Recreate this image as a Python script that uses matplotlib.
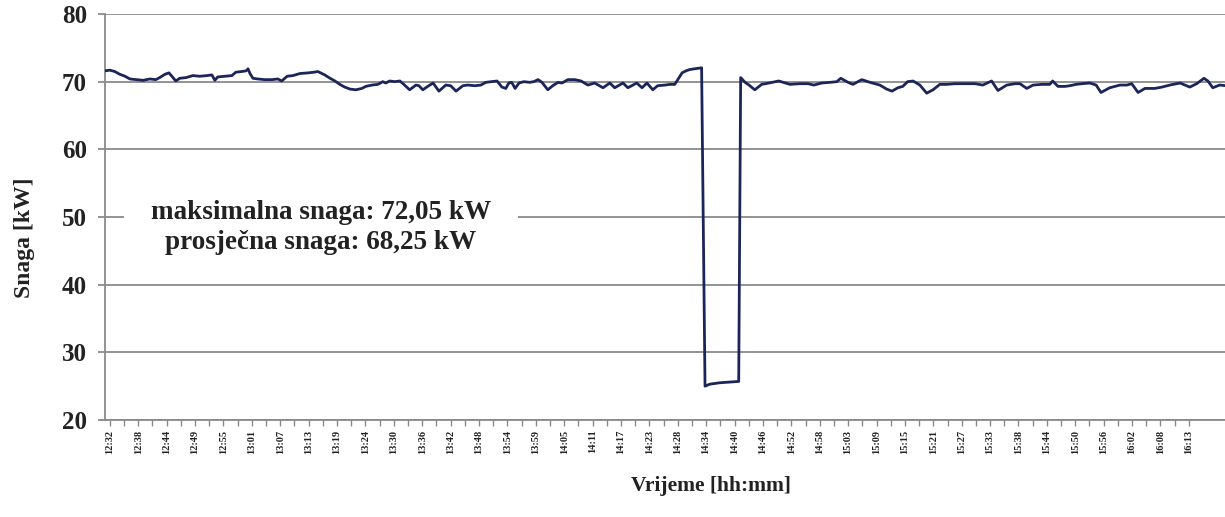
import matplotlib.pyplot as plt
import numpy as np

plt.rcParams['font.family'] = ['Liberation Serif', 'DejaVu Serif']
plt.rcParams['font.weight'] = 'bold'
plt.rcParams['axes.labelweight'] = 'bold'

# Measured power, time in minutes counted from 12:32
minutes = [
    -1.0, 0.0, 1.0, 2.0, 3.1, 4.1, 5.5, 6.8, 8.2, 9.4, 10.2, 11.3, 12.1, 12.7,
    13.5, 14.3, 15.6, 17.0, 18.4, 19.9, 20.9, 21.5, 22.1, 23.6, 25.0, 25.8,
    27.0, 27.9, 28.3, 28.7, 29.3, 30.3, 31.7, 33.2, 34.4, 35.2, 36.3, 37.5,
    38.9, 40.6, 41.8, 42.6, 44.0, 45.1, 46.1, 47.1, 48.1, 49.2, 50.4, 51.6,
    52.4, 53.7, 54.9, 55.9, 56.5, 57.3, 58.4, 59.4, 60.2, 61.4, 62.7, 63.3,
    64.1, 65.1, 66.2, 67.4, 68.8, 69.8, 70.9, 72.3, 73.3, 74.8, 76.0, 77.0,
    78.2, 79.3, 80.3, 81.1, 81.7, 82.3, 83.0, 83.8, 84.8, 86.0, 86.8, 87.7,
    88.5, 89.7, 90.7, 91.8, 92.6, 93.8, 95.2, 96.5, 97.9, 99.3, 101.0, 102.4,
    103.4, 105.1, 106.1, 107.9, 109.0, 110.0, 111.2, 112.2, 113.7, 114.7,
    115.7, 116.5, 117.2, 118.0, 118.8, 119.8, 120.8, 121.2, 121.9, 122.9,
    124.9, 127.0, 128.8, 129.2, 130.1, 130.9, 132.1, 133.5, 135.0, 137.0,
    139.3, 141.3, 143.0, 144.2, 145.8, 147.5, 148.9, 149.7, 151.2, 152.2,
    154.0, 155.7, 157.7, 159.1, 160.2, 161.4, 162.4, 163.4, 164.5, 165.9,
    167.3, 168.6, 170.0, 171.4, 173.1, 175.1, 177.2, 178.8, 180.6, 181.9,
    183.7, 185.4, 186.4, 187.8, 189.1, 190.9, 192.5, 193.1, 194.2, 195.6,
    196.6, 197.9, 199.1, 200.7, 202.0, 203.0, 204.8, 206.9, 208.3, 209.3,
    210.6, 212.0, 214.0, 215.5, 217.1, 219.2, 221.2, 222.6, 224.1, 224.9,
    225.9, 227.3, 228.6,
]
snaga = [
    71.6, 71.7, 71.5, 71.1, 70.8, 70.4, 70.3, 70.2, 70.4, 70.3, 70.6, 71.1,
    71.3, 70.8, 70.1, 70.5, 70.6, 70.9, 70.8, 70.9, 71.0, 70.2, 70.7, 70.8,
    70.9, 71.4, 71.5, 71.6, 71.9, 71.2, 70.5, 70.4, 70.3, 70.3, 70.4, 70.1,
    70.8, 70.9, 71.2, 71.3, 71.4, 71.5, 71.0, 70.5, 70.1, 69.6, 69.2, 68.9,
    68.8, 69.0, 69.3, 69.5, 69.6, 70.0, 69.8, 70.1, 70.0, 70.1, 69.6, 68.8,
    69.5, 69.4, 68.8, 69.3, 69.8, 68.6, 69.5, 69.4, 68.6, 69.4, 69.5, 69.4,
    69.5, 69.9, 70.0, 70.1, 69.2, 69.0, 69.8, 69.9, 69.0, 69.8, 70.0, 69.9,
    70.0, 70.3, 69.9, 68.8, 69.4, 69.9, 69.8, 70.3, 70.3, 70.1, 69.5, 69.8,
    69.1, 69.8, 69.1, 69.8, 69.1, 69.8, 69.1, 69.8, 68.8, 69.4, 69.5, 69.6,
    69.6, 70.5, 71.3, 71.6, 71.8, 71.9, 72.0, 72.05, 25.0, 25.3, 25.5, 25.6,
    25.7, 70.6, 69.9, 69.5, 68.8, 69.6, 69.8, 70.1, 69.6, 69.7, 69.7, 69.5,
    69.8, 69.9, 70.0, 70.5, 69.9, 69.6, 70.3, 69.9, 69.5, 68.9, 68.6, 69.1,
    69.3, 70.0, 70.1, 69.5, 68.3, 68.8, 69.6, 69.6, 69.7, 69.7, 69.7, 69.5,
    70.1, 68.7, 69.5, 69.7, 69.7, 69.0, 69.5, 69.6, 69.6, 70.1, 69.3, 69.3,
    69.4, 69.6, 69.7, 69.8, 69.5, 68.4, 69.1, 69.5, 69.5, 69.7, 68.4, 69.0,
    69.0, 69.2, 69.5, 69.8, 69.2, 69.7, 70.5, 70.1, 69.1, 69.5, 69.4,
]

time_labels = [
    "12:32", "12:38", "12:44", "12:49", "12:55", "13:01", "13:07", "13:13",
    "13:19", "13:24", "13:30", "13:36", "13:42", "13:48", "13:54", "13:59",
    "14:05", "14:11", "14:17", "14:23", "14:28", "14:34", "14:40", "14:46",
    "14:52", "14:58", "15:03", "15:09", "15:15", "15:21", "15:27", "15:33",
    "15:38", "15:44", "15:50", "15:56", "16:02", "16:08", "16:13",
]
label_step = 221 / (len(time_labels) - 1)  # minutes between labels

max_snaga = 72.05
avg_snaga = 68.25

grey = '#8a8a8a'
txt = '#222222'

fig = plt.figure(figsize=(12.25, 5.17), dpi=100)
ax = fig.add_axes([105 / 1225, 1 - 420 / 517, 1140 / 1225, 406 / 517])

ax.plot(minutes, snaga, color='#1c2559', lw=2.0, zorder=3)

ax.set_ylim(20, 80)
ax.set_yticks(np.arange(20, 81, 10))
ax.set_xlim(-1.0, 232.5)
major = np.arange(len(time_labels)) * label_step
ax.set_xticks(major)
ax.set_xticklabels(time_labels)
ax.set_xticks(major[:-1] + label_step / 2, minor=True)

ax.grid(axis='y', color=grey, lw=1.3)
ax.set_axisbelow(True)
for side in ['top', 'right']:
    ax.spines[side].set_visible(False)
for side in ['left', 'bottom']:
    ax.spines[side].set_color(grey)
    ax.spines[side].set_linewidth(1.3)

ax.tick_params(axis='y', length=5, width=1.3, color=grey, pad=8,
               labelsize=18, labelcolor=txt)
ax.tick_params(axis='x', which='both', length=4, width=1.0, color=grey)
ax.tick_params(axis='x', which='major', labelsize=7.5, labelrotation=90,
               pad=3, labelcolor=txt)

ax.set_ylabel("Snaga [kW]", fontsize=17, color=txt)
ax.yaxis.set_label_coords(-0.061, 0.45)
ax.set_xlabel("Vrijeme [hh:mm]", fontsize=15.5, color=txt)
ax.xaxis.set_label_coords(0.532, -0.138)

ax.text(43.2, 48.45,
        F"maksimalna snaga: {max_snaga:.2f} kW\nprosječna snaga: {avg_snaga:.2f} kW".replace('.', ','),
        ha='center', va='center', fontsize=19.5, color=txt, linespacing=1.3,
        bbox=dict(boxstyle='square,pad=1.0', fc='white', ec='none'), zorder=4)

fig.savefig('out.png', dpi=100)
